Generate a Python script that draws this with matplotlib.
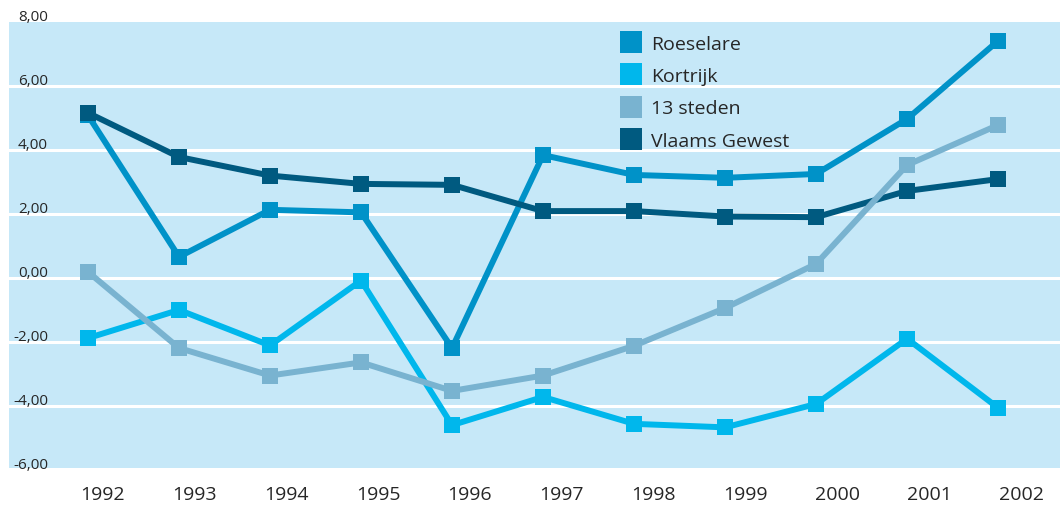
import numpy as np
import matplotlib
matplotlib.use("Agg")
import matplotlib.pyplot as plt
from matplotlib.lines import Line2D
import matplotlib.transforms as mtransforms

plt.rcParams['font.family'] = ['Open Sans', 'DejaVu Sans']

jaren = ['1992', '1993', '1994', '1995', '1996', '1997', '1998', '1999', '2000', '2001', '2002']
roeselare = [5.08, 0.66, 2.13, 2.05, -2.19, 3.84, 3.22, 3.13, 3.25, 4.97, 7.41]
kortrijk = [-1.88, -1.0, -2.11, -0.08, -4.6, -3.72, -4.56, -4.67, -3.94, -1.9, -4.06]
steden13 = [0.19, -2.19, -3.05, -2.64, -3.53, -3.05, -2.12, -0.94, 0.44, 3.53, 4.78]
vlaams = [5.16, 3.78, 3.2, 2.94, 2.91, 2.09, 2.09, 1.92, 1.9, 2.72, 3.09]
yticks = [-6, -4, -2, 0, 2, 4, 6, 8]

kleuren = {
    'Roeselare': '#0092c8',
    'Kortrijk': '#00b7ec',
    '13 steden': '#79b3d0',
    'Vlaams Gewest': '#005a80',
}
tekst = '#262626'

fig = plt.figure(figsize=(10.6, 5.06), dpi=100)
ax = fig.add_axes([9 / 1060, (506 - 469) / 506, (1060 - 9) / 1060, (469 - 23) / 506])
ax.set_facecolor('#c6e8f8')
for s in ax.spines.values():
    s.set_visible(False)

x = np.arange(len(jaren))
ax.set_xlim(-0.868, 10.68)
ax.set_ylim(-5.94, 8)

# witte rasterlijnen
for yv in yticks[1:-1]:
    ax.axhline(yv, color='white', lw=2.2, zorder=1)

reeksen = [('Roeselare', roeselare), ('Kortrijk', kortrijk),
           ('Vlaams Gewest', vlaams), ('13 steden', steden13)]
for naam, vals in reeksen:
    ax.plot(x, vals, color=kleuren[naam], lw=4.3, marker='s', markersize=11.5,
            markeredgewidth=0, solid_joinstyle='miter', zorder=3)

# jaartallen (iets naar rechts verschoven zoals in het origineel)
ax.set_xticks(x + 0.16 + 0.0093 * x, jaren)
ax.tick_params(axis='x', length=0, pad=12, labelsize=14, labelcolor=tekst)
ax.set_yticks([])

# y-labels boven de rasterlijnen
trans = mtransforms.blended_transform_factory(fig.transFigure, ax.transData)
offset = mtransforms.ScaledTranslation(0, 2 / 100, fig.dpi_scale_trans)
for yv in yticks:
    lbl = f'{yv:.2f}'.replace('.', ',')
    ax.text(48 / 1060, yv, lbl, transform=trans + offset, ha='right', va='baseline',
            fontsize=11, color=tekst, clip_on=False)

handles = [Line2D([], [], linestyle='none', marker='s', markersize=16.5,
                  markeredgewidth=0, color=kleuren[n])
           for n in ['Roeselare', 'Kortrijk', '13 steden', 'Vlaams Gewest']]
leg = ax.legend(handles, ['Roeselare', 'Kortrijk', '13 steden', 'Vlaams Gewest'],
                loc='upper left', bbox_to_anchor=(620 / 1060, 1 - 36 / 506),
                bbox_transform=fig.transFigure, frameon=False, fontsize=14,
                handlelength=1.1, handletextpad=0.5, labelspacing=0.73,
                borderaxespad=0, borderpad=0)
for t in leg.get_texts():
    t.set_color(tekst)

fig.savefig('out.png', dpi=100)
